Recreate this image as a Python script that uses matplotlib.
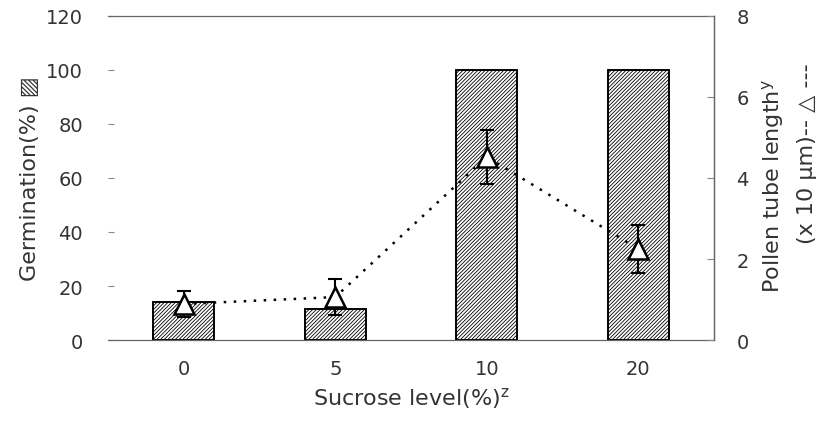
import matplotlib
matplotlib.use("Agg")
import matplotlib.pyplot as plt
import numpy as np

plt.rcParams['font.family'] = ['DejaVu Sans']
plt.rcParams['hatch.linewidth'] = 0.6

# Sucrose levels (%) and measurements
sucrose_levels = ["0", "5", "10", "20"]
germination = [14, 11.5, 100, 100]            # germination (%)
tube_length = [0.89, 1.06, 4.52, 2.25]         # pollen tube length (x 10 um)
tube_err = [0.33, 0.45, 0.66, 0.6]

fig = plt.figure(figsize=(8.27, 4.27), dpi=100)
ax = fig.add_axes([0.1306, 0.2014, 0.7328, 0.7588])
x = np.arange(len(sucrose_levels))

ax.bar(x, germination, width=0.40, facecolor='white', edgecolor='black',
       linewidth=1.4, hatch='/////////', zorder=2)
ax.set_xlim(-0.5, 3.5)
ax.set_ylim(0, 120)
ax.set_yticks(range(0, 121, 20))
ax.tick_params(axis='y', direction='in', length=4, color='#888888',
               labelsize=14, pad=18, labelcolor='#333333')
ax.tick_params(axis='x', length=0, labelsize=14, pad=14, labelcolor='#333333')
ax.set_xticks(x)
ax.set_xticklabels(sucrose_levels)
ax.spines['left'].set_visible(False)
for side in ['top', 'bottom', 'right']:
    ax.spines[side].set_color('#666666')
    ax.spines[side].set_linewidth(0.9)
ax.set_xlabel("Sucrose level(%)$^{\\mathrm{z}}$", fontsize=16, labelpad=5,
              color='#333333')
ax.set_ylabel("Germination(%) ▨", fontsize=16, labelpad=4, color='#333333')

ax2 = ax.twinx()
ax2.set_ylim(0, 8)
ax2.set_yticks(range(0, 9, 2))
ax2.tick_params(axis='y', direction='in', length=5, color='#888888',
                labelsize=14, pad=16, labelcolor='#333333')
for side in ['left', 'top', 'bottom']:
    ax2.spines[side].set_visible(False)
ax2.spines['right'].set_color('#666666')
ax2.spines['right'].set_linewidth(0.9)

ax2.plot(x, tube_length, linestyle=(0, (1, 3)), color='black', linewidth=1.8,
         zorder=3)
ax2.errorbar(x, tube_length, yerr=tube_err, fmt='none', ecolor='black',
             elinewidth=1.5, capsize=5, capthick=1.5, zorder=4)
ax2.plot(x, tube_length, linestyle='none', marker='^', markersize=15,
         markerfacecolor='white', markeredgecolor='black', markeredgewidth=1.8,
         zorder=5)

fig.text(0.935, 0.565, "Pollen tube length$^{\\mathrm{y}}$", rotation=90,
         ha='center', va='center', fontsize=16, color='#333333')
fig.text(0.976, 0.64, "(x 10 μm)-- △ ---", rotation=90,
         ha='center', va='center', fontsize=16, color='#333333')

fig.savefig("out.png", dpi=100)
